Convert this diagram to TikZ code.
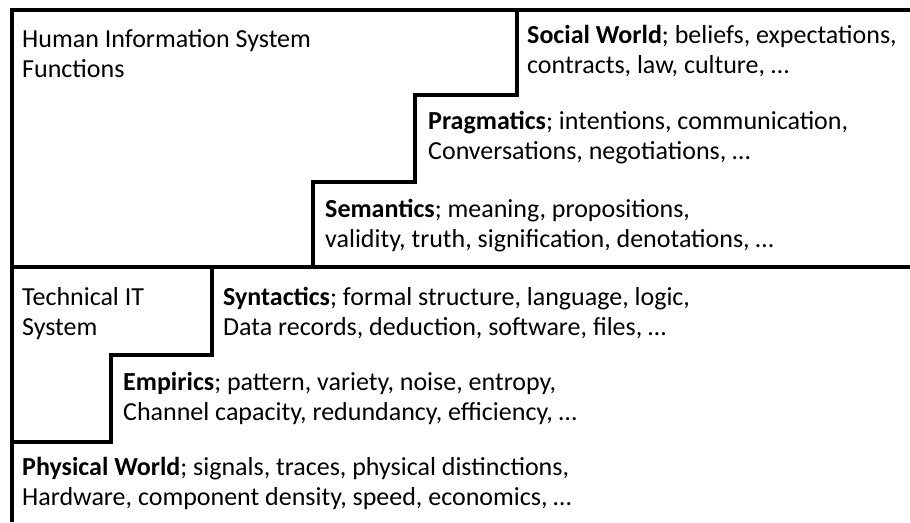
\documentclass[tikz,border=0pt]{standalone}
\usepackage{fontspec}
\setmainfont{Carlito}
\begin{document}
\begin{tikzpicture}[x=1pt,y=-1pt,
    stair/.style={line width=3.2pt,line join=miter},
    lbl/.style={anchor=base west,align=left,inner sep=0pt,
      font=\fontsize{26}{30}\selectfont}]
    \useasboundingbox (0,0) rectangle (910,522);
    % human side
    \draw[stair] (910,10) -- (12,10) -- (12,522);
    \draw[stair] (517,10) -- (517,95) -- (415,95) -- (415,182) -- (313,182) -- (313,267);
    \draw[stair] (12,267) -- (910,267);
    % technical side
    \draw[stair] (212,267) -- (212,355) -- (111,355) -- (111,442) -- (12,442);
    % labels, placed by the baseline of their last line
    \node[lbl] (his) at (22,77) {Human Information System\\Functions};
    \node[lbl] (social) at (527,73) {\textbf{Social World}; beliefs, expectations,\\contracts, law, culture, \dots};
    \node[lbl] (prag) at (428,159) {\textbf{Pragmatics}; intentions, communication,\\Conversations, negotiations, \dots};
    \node[lbl] (sem) at (325,247) {\textbf{Semantics}; meaning, propositions,\\validity, truth, signification, denotations, \dots};
    \node[lbl] (tit) at (22,335) {Technical IT\\System};
    \node[lbl] (syn) at (223,335) {\textbf{Syntactics}; formal structure, language, logic,\\Data records, deduction, software, files, \dots};
    \node[lbl] (emp) at (123,420) {\textbf{Empirics}; pattern, variety, noise, entropy,\\Channel capacity, redundancy, efficiency, \dots};
    \node[lbl] (phys) at (22,505) {\textbf{Physical World}; signals, traces, physical distinctions,\\Hardware, component density, speed, economics, \dots};
\end{tikzpicture}
\end{document}
